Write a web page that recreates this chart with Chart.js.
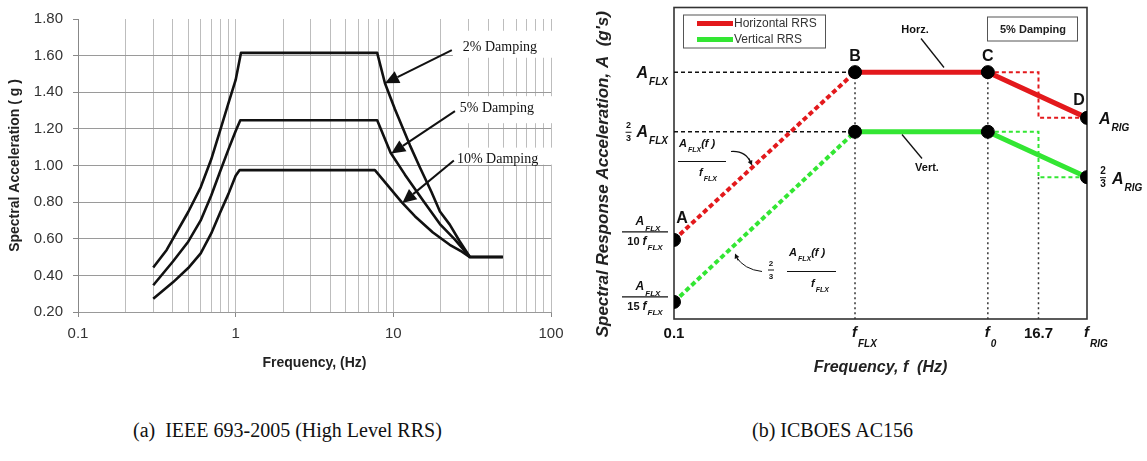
<!DOCTYPE html>
<html>
<head>
<meta charset="utf-8">
<script src="https://cdn.jsdelivr.net/npm/chart.js@4.4.1/dist/chart.umd.min.js"></script>
<style>
  body { margin: 0; background: #fff; width: 1147px; height: 461px; position: relative; overflow: hidden; }
  #chartA { position: absolute; left: 0; top: 0; }
  #chartB { position: absolute; left: 575px; top: 0; }
  .cap { position: absolute; top: 419px; font-family: "Liberation Serif", "Times New Roman", serif; font-size: 20px; color: #111; white-space: nowrap; }
</style>
</head>
<body>
<canvas id="chartA" width="575" height="390"></canvas>
<canvas id="chartB" width="572" height="390"></canvas>
<div class="cap" style="left:133px">(a)&nbsp; IEEE 693-2005 (High Level RRS)</div>
<div class="cap" style="left:752px">(b) ICBOES AC156</div>
<script>
Chart.defaults.font.family = '"Liberation Sans", Arial, sans-serif';
Chart.defaults.color = '#222';

// ---------- (a) IEEE 693-2005, high level RRS ----------
var freq2 = [0.3, 0.365, 0.5, 0.6, 0.7, 0.8, 0.9, 1.0, 1.08, 7.9, 8.85, 10.24, 12.75, 14.75, 17.4, 19.75, 22.8, 26.4, 30.6, 49.5];
var acc2  = [0.443, 0.539, 0.746, 0.881, 1.034, 1.196, 1.34, 1.467, 1.615, 1.615, 1.449, 1.307, 1.11, 0.989, 0.858, 0.749, 0.677, 0.585, 0.50, 0.50];
var freq5 = [0.3, 0.4, 0.5, 0.6, 0.7, 0.8, 0.9, 1.0, 1.07, 7.9, 9.61, 11.85, 15.47, 19.75, 24.6, 30.6, 49.5];
var acc5  = [0.346, 0.476, 0.584, 0.70, 0.836, 0.971, 1.088, 1.188, 1.247, 1.247, 1.07, 0.95, 0.808, 0.68, 0.595, 0.50, 0.50];
var freq10 = [0.3, 0.4, 0.5, 0.6, 0.7, 0.8, 0.9, 1.0, 1.06, 7.64, 11.29, 13.7, 17.83, 22.8, 27.2, 30.6, 49.5];
var acc10  = [0.272, 0.362, 0.44, 0.52, 0.629, 0.746, 0.845, 0.944, 0.975, 0.975, 0.80, 0.723, 0.634, 0.567, 0.53, 0.50, 0.50];

var xGrid = [0.1, 0.2, 0.3, 0.4, 0.5, 0.6, 0.7, 0.8, 0.9, 1, 2, 3, 4, 5, 6, 7, 8, 9, 10, 20, 30, 40, 50, 60, 70, 80, 90, 100];
var xMajor = [0.1, 1, 10, 100];

// damping labels: text, label anchor, arrow tail, arrow tip (Hz, g)
var dampText = ['2% Damping', '5% Damping', '10% Damping'];
var dampLabelAt = [[27.6, 1.643], [26.4, 1.313], [25.3, 1.032]];
var dampTail = [[23.5, 1.63], [24.6, 1.297], [24.2, 1.027]];
var dampTip = [[8.85, 1.449], [9.7, 1.065], [11.4, 0.795]];

function pts(xs, ys) {
  return xs.map(function (x, i) { return { x: x, y: ys[i] }; });
}

function arrow(ctx, x1, y1, x2, y2, head, half) {
  var ang = Math.atan2(y2 - y1, x2 - x1);
  var bx = x2 - head * Math.cos(ang), by = y2 - head * Math.sin(ang);
  ctx.beginPath(); ctx.moveTo(x1, y1); ctx.lineTo(bx, by); ctx.stroke();
  ctx.beginPath();
  ctx.moveTo(x2, y2);
  ctx.lineTo(bx + half * Math.sin(ang), by - half * Math.cos(ang));
  ctx.lineTo(bx - half * Math.sin(ang), by + half * Math.cos(ang));
  ctx.closePath(); ctx.fill();
}

var dampPlugin = {
  id: 'damp',
  beforeDatasetsDraw: function (chart) {
    var ctx = chart.ctx, xs = chart.scales.x, ys = chart.scales.y, a = chart.chartArea;
    var cover = [[-17, 10], [-12, 15], [-12, 5]];
    ctx.save();
    ctx.fillStyle = '#fff';
    dampLabelAt.forEach(function (p, i) {
      var tx = xs.getPixelForValue(p[0]), ty = ys.getPixelForValue(p[1]);
      ctx.fillRect(tx - 10, ty + cover[i][0], a.right + 2 - (tx - 10), cover[i][1] - cover[i][0]);
    });
    ctx.restore();
  },
  afterDatasetsDraw: function (chart) {
    var ctx = chart.ctx, xs = chart.scales.x, ys = chart.scales.y;
    ctx.save();
    ctx.fillStyle = '#111'; ctx.strokeStyle = '#111'; ctx.lineWidth = 2;
    ctx.font = '14px "Liberation Serif", "Times New Roman", serif';
    ctx.textAlign = 'left'; ctx.textBaseline = 'middle';
    dampText.forEach(function (t, i) {
      ctx.fillText(t, xs.getPixelForValue(dampLabelAt[i][0]), ys.getPixelForValue(dampLabelAt[i][1]));
      arrow(ctx, xs.getPixelForValue(dampTail[i][0]), ys.getPixelForValue(dampTail[i][1]),
        xs.getPixelForValue(dampTip[i][0]), ys.getPixelForValue(dampTip[i][1]), 14, 6.5);
    });
    ctx.restore();
  }
};

function curve(xs, ys) {
  return {
    data: pts(xs, ys), showLine: true, pointRadius: 0, borderColor: '#111',
    borderWidth: 2.6, tension: 0, borderJoinStyle: 'round', fill: false
  };
}

new Chart(document.getElementById('chartA'), {
  type: 'scatter',
  data: { datasets: [curve(freq2, acc2), curve(freq5, acc5), curve(freq10, acc10)] },
  options: {
    responsive: false, animation: false, devicePixelRatio: 1,
    layout: { padding: { left: 0, right: 24, top: 16, bottom: 0 } },
    plugins: { legend: { display: false }, tooltip: { enabled: false } },
    scales: {
      x: {
        type: 'logarithmic', min: 0.1, max: 100,
        afterBuildTicks: function (s) { s.ticks = xGrid.map(function (v) { return { value: v }; }); },
        afterFit: function (s) { s.height = 78; },
        ticks: {
          autoSkip: false, maxRotation: 0, padding: 8, color: '#333', font: { size: 15 },
          callback: function (v) { return xMajor.indexOf(v) >= 0 ? String(v) : ''; }
        },
        grid: {
          color: '#bdbdbd', lineWidth: 1, tickLength: 5,
          tickColor: function (c) { return c.tick && xMajor.indexOf(c.tick.value) >= 0 ? '#888' : 'rgba(0,0,0,0)'; }
        },
        border: { color: '#999' },
        title: { display: true, text: 'Frequency, (Hz)', color: '#222', font: { size: 14, weight: 'bold' }, padding: { top: 0, bottom: 18 } }
      },
      y: {
        min: 0.2, max: 1.8,
        afterFit: function (s) { s.width = 78; },
        ticks: {
          stepSize: 0.2, padding: 10, color: '#333', font: { size: 15 },
          callback: function (v) { return Number(v).toFixed(2); }
        },
        grid: {
          color: function (c) { return c.tick && c.tick.value > 1.79 ? 'rgba(0,0,0,0)' : '#9a9a9a'; },
          tickColor: '#888', tickLength: 5
        },
        border: { color: '#888' },
        title: { display: true, text: 'Spectral Acceleration ( g )', color: '#222', font: { size: 14, weight: 'bold' }, padding: { top: 7, bottom: 0 } }
      }
    }
  },
  plugins: [dampPlugin]
});

// ---------- (b) ICBOES AC156 ----------
var keyFreq = [0.1, 1.27, 8.2, 16.7, 33];          // 0.1, f_FLX, f_0, 16.7, f_RIG
var horzAcc = [0.32, 1.0, 1.0, 1.0, 0.733];        // A_FLX/(10 f_FLX), A_FLX, A_FLX, A_FLX, A_RIG
var vertAcc = [0.21, 0.667, 0.667, 0.667, 0.49];   // 2/3 of the horizontal levels
var freqRange = [0.1, 33];
var accRange = [0.187, 1.551];

var red = '#e3191c', green = '#33e633';

function seg(idx, acc, accIdx) {
  return idx.map(function (k, j) { return { x: keyFreq[k], y: acc[accIdx ? accIdx[j] : k] }; });
}

function lineSet(data, color, width, dash, order) {
  return {
    data: data, showLine: true, pointRadius: 0, borderColor: color, borderWidth: width,
    borderDash: dash, tension: 0, fill: false, order: order
  };
}

var dotData = [0, 1, 2, 4].map(function (k) { return { x: keyFreq[k], y: horzAcc[k] }; })
  .concat([0, 1, 2, 4].map(function (k) { return { x: keyFreq[k], y: vertAcc[k] }; }));

var rrsSets = [
  { data: dotData, showLine: false, pointRadius: 6.5, pointBackgroundColor: '#000', pointBorderColor: '#000', order: 0 },
  lineSet(seg([1, 2, 4], horzAcc), red, 5, [], 1),
  lineSet(seg([1, 2, 4], vertAcc), green, 5, [], 1),
  lineSet(seg([0, 1], horzAcc), red, 4, [5, 3], 2),
  lineSet(seg([0, 1], vertAcc), green, 4, [5, 3], 2),
  lineSet(seg([2, 3, 3, 4], horzAcc, [2, 3, 4, 4]), red, 2, [4, 3], 3),
  lineSet(seg([2, 3, 3, 4], vertAcc, [2, 3, 4, 4]), green, 2, [4, 3], 3),
  lineSet([{ x: freqRange[0], y: horzAcc[1] }, { x: keyFreq[1], y: horzAcc[1] }], '#111', 1.5, [4, 3], 4),
  lineSet([{ x: freqRange[0], y: vertAcc[1] }, { x: keyFreq[1], y: vertAcc[1] }], '#111', 1.5, [4, 3], 4),
  lineSet([{ x: keyFreq[1], y: horzAcc[1] }, { x: keyFreq[1], y: accRange[0] }], '#333', 1.5, [2, 3], 4),
  lineSet([{ x: keyFreq[2], y: horzAcc[2] }, { x: keyFreq[2], y: accRange[0] }], '#333', 1.5, [2, 3], 4),
  lineSet([{ x: keyFreq[3], y: vertAcc[4] }, { x: keyFreq[3], y: accRange[0] }], '#333', 1.5, [2, 3], 4)
];

var SANS = '"Liberation Sans", Arial, sans-serif';

function drawSub(ctx, x, y, main, sub, size, align, drop, tail) {
  var f1 = 'italic bold ' + size + 'px ' + SANS;
  var f2 = 'italic bold ' + Math.round(size * 0.64) + 'px ' + SANS;
  ctx.font = f1; var w1 = ctx.measureText(main).width;
  ctx.font = f2; var w2 = ctx.measureText(sub).width;
  var w3 = 0;
  if (tail) { ctx.font = f1; w3 = ctx.measureText(tail).width; }
  var w = w1 + 1 + w2 + w3;
  var x0 = align === 'right' ? x - w : (align === 'center' ? x - w / 2 : x);
  ctx.textAlign = 'left'; ctx.textBaseline = 'middle';
  ctx.font = f1; ctx.fillText(main, x0, y);
  ctx.font = f2; ctx.fillText(sub, x0 + w1 + 1, y + size * drop);
  if (tail) { ctx.font = f1; ctx.fillText(tail, x0 + w1 + 1 + w2, y); }
  return w;
}

function frac23(ctx, x, y, size) {
  ctx.font = 'bold ' + size + 'px ' + SANS;
  ctx.textAlign = 'center'; ctx.textBaseline = 'middle';
  ctx.fillText('2', x, y - 6);
  ctx.fillText('3', x, y + 7);
  ctx.lineWidth = 1; ctx.beginPath(); ctx.moveTo(x - 3, y + 0.5); ctx.lineTo(x + 3, y + 0.5); ctx.stroke();
}

function hline(ctx, x1, x2, y) {
  ctx.beginPath(); ctx.moveTo(x1, y); ctx.lineTo(x2, y); ctx.stroke();
}

function fracLabel(ctx, xr, yb, num) {
  var cx = xr - 23;
  ctx.lineWidth = 1.2; hline(ctx, xr - 46, xr, yb);
  drawSub(ctx, cx + 3, yb - 10, 'A', 'FLX', 12, 'center', 0.6);
  ctx.font = 'bold 11px ' + SANS; var wn = ctx.measureText(num + ' ').width;
  ctx.font = 'italic bold 12px ' + SANS; var wf = ctx.measureText('f').width;
  ctx.font = 'italic bold 8px ' + SANS; var ws = ctx.measureText('FLX').width;
  var x0 = cx - (wn + wf + ws + 1) / 2;
  ctx.font = 'bold 11px ' + SANS; ctx.textAlign = 'left'; ctx.textBaseline = 'middle';
  ctx.fillText(num + ' ', x0, yb + 10);
  drawSub(ctx, x0 + wn, yb + 10, 'f', 'FLX', 12, 'left', 0.5);
}

var rrsPlugin = {
  id: 'rrs',
  beforeDatasetsDraw: function (chart) {
    var ctx = chart.ctx, a = chart.chartArea;
    ctx.save();
    ctx.strokeStyle = '#333'; ctx.lineWidth = 1.6;
    ctx.strokeRect(a.left, a.top, a.right - a.left, a.bottom - a.top);
    // axis title, drawn here so it can sit a little below the middle like the original
    ctx.translate(28, (a.top + a.bottom) / 2 + 11);
    ctx.rotate(-Math.PI / 2);
    ctx.fillStyle = '#222'; ctx.font = 'italic bold 17px ' + SANS;
    ctx.textAlign = 'center'; ctx.textBaseline = 'middle';
    ctx.fillText("Spectral Response Acceleration, A  (g's)", 0, 0);
    ctx.restore();
  },
  afterDatasetsDraw: function (chart) {
    var ctx = chart.ctx, a = chart.chartArea, xs = chart.scales.x, ys = chart.scales.y;
    var px = function (f) { return xs.getPixelForValue(f); };
    var py = function (v) { return ys.getPixelForValue(v); };
    ctx.save();
    ctx.fillStyle = '#111'; ctx.strokeStyle = '#111';

    // left side acceleration labels
    var lx = a.left - 6;
    drawSub(ctx, lx, py(horzAcc[1]) + 1, 'A', 'FLX', 16, 'right', 0.55);
    var w = drawSub(ctx, lx, py(vertAcc[1]) + 1, 'A', 'FLX', 16, 'right', 0.55);
    frac23(ctx, lx - w - 8, py(vertAcc[1]), 9);
    fracLabel(ctx, lx, py(horzAcc[0]) - 8, '10');
    fracLabel(ctx, lx, py(vertAcc[0]) - 5, '15');

    // right side labels
    var rx = a.right + 12;
    drawSub(ctx, rx, py(horzAcc[4]) + 2, 'A', 'RIG', 16, 'left', 0.55);
    frac23(ctx, rx + 4, py(vertAcc[4]), 10);
    drawSub(ctx, rx + 13, py(vertAcc[4]) + 2, 'A', 'RIG', 16, 'left', 0.55);

    // frequency labels
    var yl = a.bottom + 14;
    ctx.font = 'bold 15px ' + SANS; ctx.textAlign = 'center'; ctx.textBaseline = 'middle';
    ctx.fillText('0.1', px(keyFreq[0]), yl + 1);
    ctx.fillText('16.7', px(keyFreq[3]), yl + 1);
    drawSub(ctx, px(keyFreq[1]) - 3, yl, 'f', 'FLX', 15, 'left', 0.75);
    drawSub(ctx, px(keyFreq[2]) - 3, yl, 'f', '0', 15, 'left', 0.75);
    drawSub(ctx, px(keyFreq[4]) - 3, yl, 'f', 'RIG', 15, 'left', 0.75);

    // point letters
    ctx.font = 'bold 16px ' + SANS; ctx.textAlign = 'center'; ctx.textBaseline = 'middle';
    ctx.fillText('A', px(keyFreq[0]) + 8, py(horzAcc[0]) - 21);
    ctx.fillText('B', px(keyFreq[1]), py(horzAcc[1]) - 16);
    ctx.fillText('C', px(keyFreq[2]), py(horzAcc[2]) - 16);
    ctx.fillText('D', px(keyFreq[4]) - 8, py(horzAcc[4]) - 17);

    // legend
    var gx = a.left + 9, gy = a.top + 7;
    ctx.lineWidth = 1; ctx.strokeStyle = '#555';
    ctx.strokeRect(gx + 0.5, gy + 0.5, 142, 33);
    ctx.lineWidth = 5;
    ctx.strokeStyle = red; hline(ctx, gx + 14, gx + 50, gy + 9);
    ctx.strokeStyle = green; hline(ctx, gx + 14, gx + 50, gy + 25);
    ctx.font = '12px ' + SANS; ctx.fillStyle = '#333'; ctx.textAlign = 'left';
    ctx.fillText('Horizontal RRS', gx + 51, gy + 9);
    ctx.fillText('Vertical RRS', gx + 51, gy + 25);

    // damping box
    ctx.lineWidth = 1; ctx.strokeStyle = '#555';
    ctx.strokeRect(a.right - 99.5, a.top + 9.5, 90, 24);
    ctx.fillStyle = '#222'; ctx.font = 'bold 11px ' + SANS; ctx.textAlign = 'center';
    ctx.fillText('5% Damping', a.right - 54, a.top + 22);

    // Horz. / Vert. callouts
    ctx.fillStyle = '#111'; ctx.strokeStyle = '#111'; ctx.lineWidth = 1.3;
    ctx.fillText('Horz.', a.left + 241, a.top + 22);
    ctx.beginPath(); ctx.moveTo(a.left + 247, a.top + 31); ctx.lineTo(a.left + 270, a.top + 60); ctx.stroke();
    ctx.fillText('Vert.', a.left + 253, a.top + 160);
    ctx.beginPath(); ctx.moveTo(a.left + 248, a.top + 151); ctx.lineTo(a.left + 228, a.top + 127); ctx.stroke();

    // slope formula callouts
    ctx.lineWidth = 1.2;
    drawSub(ctx, a.left + 5, a.top + 136, 'A', 'FLX', 11, 'left', 0.6, '(f )');
    hline(ctx, a.left + 4, a.left + 52, a.top + 154);
    drawSub(ctx, a.left + 25, a.top + 165, 'f', 'FLX', 11, 'left', 0.6);
    ctx.beginPath(); ctx.moveTo(a.left + 57, a.top + 144);
    ctx.quadraticCurveTo(a.left + 72, a.top + 143, a.left + 77, a.top + 156); ctx.stroke();
    arrow(ctx, a.left + 75, a.top + 151, a.left + 78, a.top + 158, 5, 2.5);

    frac23(ctx, a.left + 97, a.top + 262, 8);
    drawSub(ctx, a.left + 115, a.top + 245, 'A', 'FLX', 11, 'left', 0.6, '(f )');
    hline(ctx, a.left + 113, a.left + 162, a.top + 264);
    drawSub(ctx, a.left + 137, a.top + 276, 'f', 'FLX', 11, 'left', 0.6);
    ctx.beginPath(); ctx.moveTo(a.left + 88, a.top + 264);
    ctx.quadraticCurveTo(a.left + 70, a.top + 262, a.left + 62, a.top + 249); ctx.stroke();
    arrow(ctx, a.left + 64, a.top + 253, a.left + 61, a.top + 246, 5, 2.5);

    ctx.restore();
  }
};

new Chart(document.getElementById('chartB'), {
  type: 'scatter',
  data: { datasets: rrsSets },
  options: {
    responsive: false, animation: false, devicePixelRatio: 1,
    layout: { padding: { left: 0, right: 60, top: 6, bottom: 0 } },
    plugins: { legend: { display: false }, tooltip: { enabled: false } },
    scales: {
      x: {
        type: 'logarithmic', min: freqRange[0], max: freqRange[1],
        afterFit: function (s) { s.height = 71; },
        ticks: { display: false }, grid: { display: false }, border: { display: false },
        title: { display: true, text: 'Frequency, f  (Hz)', color: '#222', font: { size: 16, weight: 'bold', style: 'italic' }, padding: { top: 0, bottom: 13 } }
      },
      y: {
        type: 'logarithmic', min: accRange[0], max: accRange[1],
        afterFit: function (s) { s.width = 99; },
        ticks: { display: false }, grid: { display: false }, border: { display: false }
      }
    }
  },
  plugins: [rrsPlugin]
});
</script>
</body>
</html>
